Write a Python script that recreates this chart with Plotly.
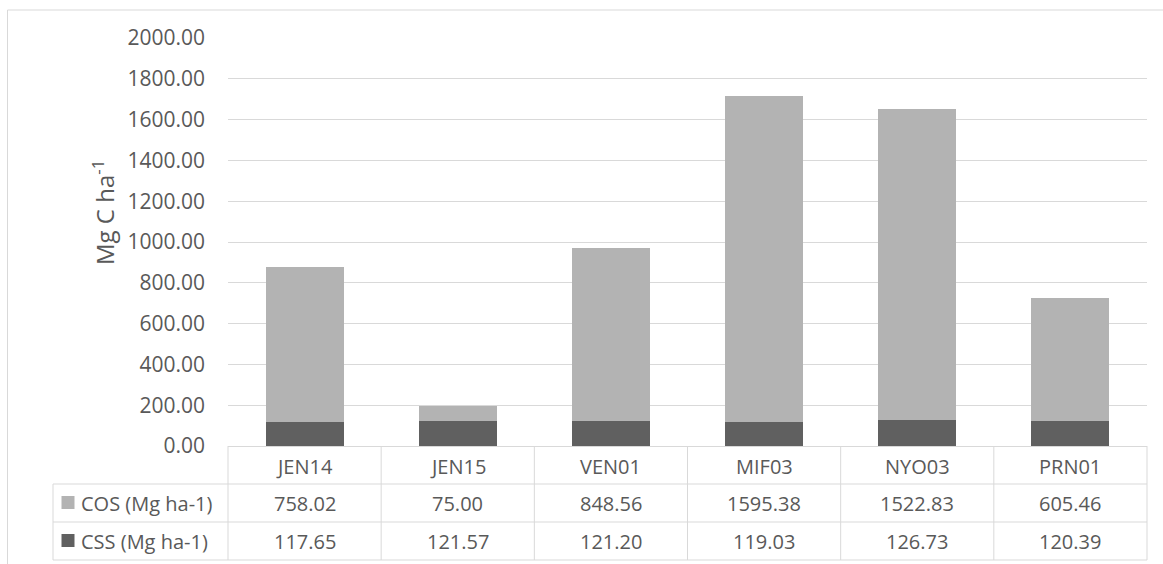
import plotly.graph_objects as go

# Sites and carbon stocks
sites = ["JEN14", "JEN15", "VEN01", "MIF03", "NYO03", "PRN01"]
cos_values = [758.02, 75.00, 848.56, 1595.38, 1522.83, 605.46]
css_values = [117.65, 121.57, 121.20, 119.03, 126.73, 120.39]
series_names = ["COS (Mg ha-1)", "CSS (Mg ha-1)"]
y_ticks = [0, 200, 400, 600, 800, 1000, 1200, 1400, 1600, 1800, 2000]

W, H = 1163, 564
L, R, T, B = 228, 16, 38, 118
PW, PH = W - L - R, H - T - B

TEXT = "#595959"
GRID = "#d9d9d9"
LIGHT = "#b3b3b3"
DARK = "#606060"
FONT = "Open Sans"
FS = 20


def px(x):
    return (x - L) / PW


def py(y):
    return (H - B - y) / PH


fig = go.Figure()
fig.add_trace(go.Bar(x=sites, y=css_values, name=series_names[1],
                     marker=dict(color=DARK, line=dict(width=0))))
fig.add_trace(go.Bar(x=sites, y=cos_values, name=series_names[0],
                     marker=dict(color=LIGHT, line=dict(width=0))))

shapes = []
annotations = []


def label(x, y, text, size=FS, xanchor="center", angle=0):
    annotations.append(dict(x=px(x), y=py(y), xref="paper", yref="paper",
                            text=text, showarrow=False, xanchor=xanchor,
                            yanchor="middle", textangle=angle,
                            font=dict(family=FONT, size=size, color=TEXT)))


# Data table grid below the plot
row_y = [H - B, 484, 522, 560]
col_x = [L + i * PW / len(sites) for i in range(len(sites) + 1)]
line = dict(color=GRID, width=1)
for x in col_x:
    shapes.append(dict(type="line", xref="paper", yref="paper",
                       x0=px(x), x1=px(x), y0=py(row_y[0]), y1=py(row_y[-1]), line=line))
shapes.append(dict(type="line", xref="paper", yref="paper",
                   x0=px(53), x1=px(53), y0=py(row_y[1]), y1=py(row_y[-1]), line=line))
for y in row_y[1:]:
    shapes.append(dict(type="line", xref="paper", yref="paper",
                       x0=px(53), x1=px(col_x[-1]), y0=py(y), y1=py(y), line=line))

# Chart frame (left and top edges)
shapes.append(dict(type="line", xref="paper", yref="paper",
                   x0=px(7.5), x1=px(7.5), y0=py(10), y1=py(H + 2), line=line))
shapes.append(dict(type="line", xref="paper", yref="paper",
                   x0=px(7.5), x1=px(W + 2), y0=py(10), y1=py(10), line=line))

# Header row: site names
for i, s in enumerate(sites):
    cx = (col_x[i] + col_x[i + 1]) / 2
    label(cx, (row_y[0] + row_y[1]) / 2 + 1, s)

# Value rows with legend keys
rows = [(series_names[0], cos_values, LIGHT), (series_names[1], css_values, DARK)]
for r, (name, vals, color) in enumerate(rows):
    y0, y1 = row_y[r + 1], row_y[r + 2]
    cy = (y0 + y1) / 2
    shapes.append(dict(type="rect", xref="paper", yref="paper",
                       x0=px(61.5), x1=px(74.5), y0=py(cy - 7), y1=py(cy + 6),
                       fillcolor=color, line=dict(width=0)))
    label(79, cy, name, xanchor="left")
    for i, v in enumerate(vals):
        cx = (col_x[i] + col_x[i + 1]) / 2
        label(cx, cy, f"{v:.2f}")

# Y axis title
label(103, 213, "Mg C ha<sup>-1</sup>", size=24, angle=-90)

fig.update_layout(
    width=W, height=H,
    margin=dict(l=L, r=R, t=T, b=B, pad=0),
    barmode="stack", bargap=0.49,
    paper_bgcolor="white", plot_bgcolor="white",
    showlegend=False,
    font=dict(family=FONT, size=FS, color=TEXT),
    shapes=shapes, annotations=annotations,
    xaxis=dict(showticklabels=False, showgrid=False, zeroline=False,
               showline=False, ticks=""),
    yaxis=dict(range=[0, 2000], tickvals=y_ticks, tickformat=".2f",
               showgrid=True, gridcolor=GRID, gridwidth=1,
               zeroline=True, zerolinecolor=GRID, zerolinewidth=1,
               showline=False, ticks="", ticklabelstandoff=22,
               tickfont=dict(family=FONT, size=21, color=TEXT)),
)

fig.write_html("out.html")
